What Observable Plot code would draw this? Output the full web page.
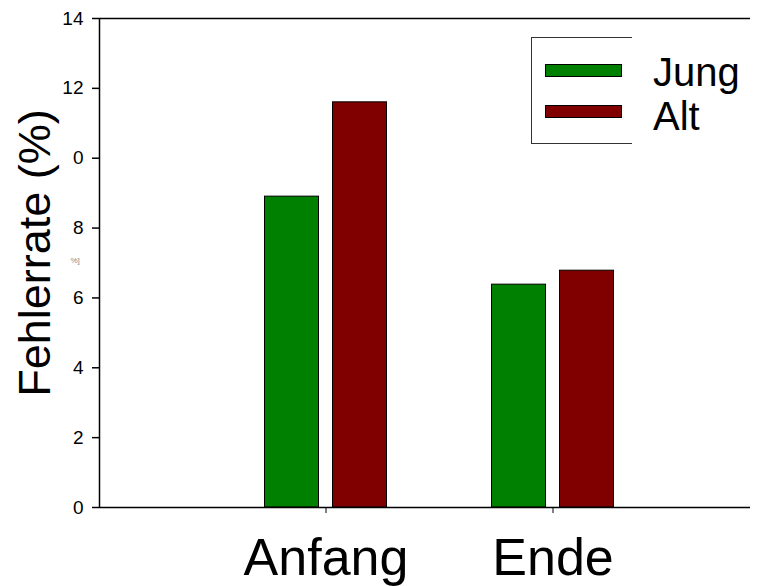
<!DOCTYPE html>
<html>
<head>
<meta charset="utf-8">
<script src="https://cdn.jsdelivr.net/npm/d3@7"></script>
<script src="https://cdn.jsdelivr.net/npm/@observablehq/plot@0.6"></script>
<style>
  html, body { margin: 0; padding: 0; background: #fff; }
  #wrap { position: relative; width: 761px; height: 586px; font-family: "Liberation Sans", Arial, sans-serif; }
  #legend { position: absolute; left: 531px; top: 37px; width: 101px; height: 107px;
            border: 1px solid #333; border-right: none; box-sizing: border-box; }
  .sw { position: absolute; left: 13px; width: 77px; height: 13px; border: 1px solid #000; box-sizing: border-box; }
  .lt { position: absolute; left: 121px; font-size: 40px; line-height: 40px; color: #000; white-space: nowrap; }
</style>
</head>
<body>
<div id="wrap"></div>
<script>
const groups = ["Anfang", "Ende"];
const series = ["Jung", "Alt"];
const jungValues = [8.9, 6.38];
const altValues = [11.6, 6.78];
const colors = ["#008000", "#800000"];
const yTicks = [0, 2, 4, 6, 8, 10, 12, 14];
const yTickLabels = ["0", "2", "4", "6", "8", "0", "12", "14"];
const yTitle = "Fehlerrate (%)";
const strayText = "%]";

const data = [];
groups.forEach((g, i) => {
  data.push({group: g, series: "Jung", value: jungValues[i]});
  data.push({group: g, series: "Alt", value: altValues[i]});
});

const font = '"Liberation Sans", Arial, sans-serif';
const W = 761, H = 586, mL = 99, mR = 11, mT = 18, mB = 79;

const chart = Plot.plot({
  width: W,
  height: H,
  marginLeft: mL,
  marginRight: mR,
  marginTop: mT,
  marginBottom: mB,
  style: {fontFamily: font, color: "#000", background: "#fff"},
  x: {domain: groups, range: [211.5, 665.5], padding: 0, axis: null},
  y: {domain: [0, 14], axis: null},
  color: {domain: series, range: colors},
  marks: [
    Plot.barY(data.filter(d => d.series === "Jung"), {
      x: "group", y: "value", fill: "series", stroke: "#000", strokeWidth: 1,
      insetLeft: 52.5, insetRight: 120.5
    }),
    Plot.barY(data.filter(d => d.series === "Alt"), {
      x: "group", y: "value", fill: "series", stroke: "#000", strokeWidth: 1,
      insetLeft: 120.5, insetRight: 52.5
    }),
    Plot.ruleY([0, 14], {stroke: "#000", strokeWidth: 1.5}),
    Plot.axisY({
      ticks: yTicks, tickSize: 7, tickPadding: 9, fontSize: 19, label: null,
      tickFormat: (d) => yTickLabels[yTicks.indexOf(d)], stroke: "#000", strokeWidth: 1.5
    }),
    Plot.ruleX([0], {x: null, y1: 0, y2: 14, dx: -(W - mL - mR) / 2, stroke: "#000", strokeWidth: 1.5}),
    Plot.axisX({
      tickSize: 6, tickPadding: 25, fontSize: 52, label: null, stroke: "#000"
    }),
    Plot.text([yTitle], {frameAnchor: "left", textAnchor: "middle", rotate: -90, dx: -64, dy: -10, fontSize: 45, fill: "#000"}),
    Plot.text([strayText], {frameAnchor: "left", dx: -29, dy: -3, fontSize: 8, fill: "#888"})
  ]
});

const wrap = document.getElementById("wrap");
wrap.appendChild(chart);

const legend = document.createElement("div");
legend.id = "legend";
series.forEach((s, i) => {
  const sw = document.createElement("div");
  sw.className = "sw";
  sw.style.top = (26 + i * 41) + "px";
  sw.style.background = colors[i];
  legend.appendChild(sw);
  const lt = document.createElement("div");
  lt.className = "lt";
  lt.style.top = (14 + i * 44) + "px";
  lt.textContent = s;
  legend.appendChild(lt);
});
wrap.appendChild(legend);
</script>
</body>
</html>
